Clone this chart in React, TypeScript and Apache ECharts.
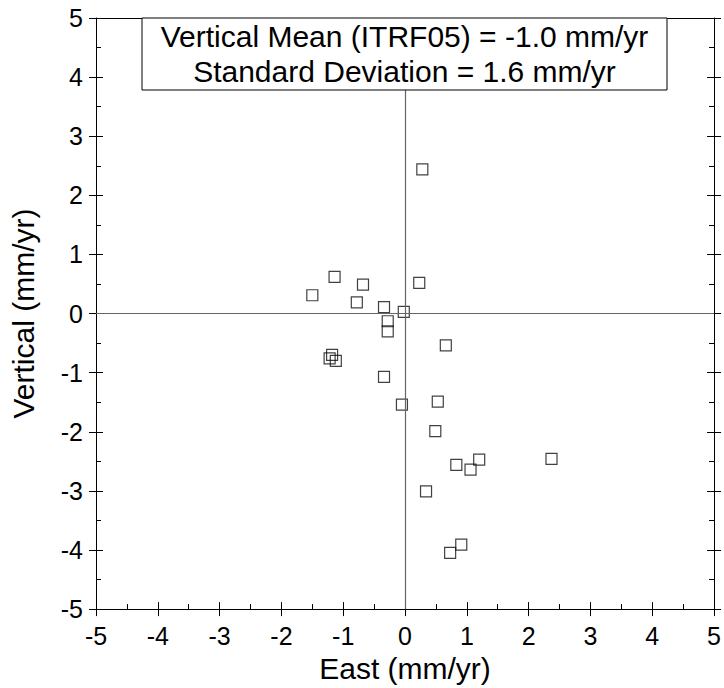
import React, { useEffect, useRef } from "react";
import * as echarts from "echarts";

const eastValues = [
  -1.14, -0.68, -1.5, 0.23, -0.78, -0.34, -0.02, -0.28, -0.28, 0.66,
  -1.18, -1.22, -1.12, -0.34, 0.53, -0.05, 0.49, 1.2, 2.37, 0.83,
  1.06, 0.34, 0.91, 0.73, 0.28,
];
const verticalValues = [
  0.62, 0.49, 0.31, 0.52, 0.19, 0.11, 0.03, -0.13, -0.3, -0.54,
  -0.7, -0.76, -0.8, -1.07, -1.49, -1.54, -1.99, -2.47, -2.46, -2.56,
  -2.64, -3.01, -3.91, -4.05, 2.44,
];
const axisTicks = [-5, -4, -3, -2, -1, 0, 1, 2, 3, 4, 5];
const boxLines = [
  "Vertical Mean (ITRF05) = -1.0 mm/yr",
  "Standard Deviation = 1.6 mm/yr",
];

const FONT = "Liberation Sans, Arial, sans-serif";

export default function App() {
  const ref = useRef<HTMLDivElement>(null);
  useEffect(() => {
    if (!ref.current) return;
    const chart = echarts.init(ref.current, null, { renderer: "svg" });
    const lo = axisTicks[0];
    const hi = axisTicks[axisTicks.length - 1];
    const line = { show: true, onZero: false, lineStyle: { color: "#000", width: 1 } };
    const noLine = { show: false, onZero: false };
    const noLabel = { show: false };
    const baseAxis = { type: "value", min: lo, max: hi, interval: 1, splitLine: { show: false } };
    const tickStyle = { color: "#000", width: 1 };
    chart.setOption({
      animation: false,
      backgroundColor: "#fff",
      textStyle: { fontFamily: FONT },
      grid: { left: 96, right: 9, top: 18, bottom: 77, containLabel: false },
      xAxis: [
        {
          ...baseAxis,
          position: "bottom",
          axisLine: line,
          axisTick: { show: true, inside: false, length: 7, lineStyle: tickStyle },
          axisLabel: { show: true, fontSize: 25, color: "#000", margin: 14, fontFamily: FONT },
          name: "East (mm/yr)",
          nameLocation: "middle",
          nameGap: 38,
          nameTextStyle: { fontSize: 30, color: "#000", fontFamily: FONT },
        },
        {
          ...baseAxis,
          position: "bottom",
          axisLine: noLine,
          axisTick: { show: true, inside: true, length: 7, lineStyle: tickStyle },
          minorTick: { show: true, splitNumber: 2, length: 5, lineStyle: tickStyle },
          axisLabel: noLabel,
        },
        {
          ...baseAxis,
          position: "top",
          axisLine: line,
          axisTick: { show: false },
          axisLabel: noLabel,
        },
      ],
      yAxis: [
        {
          ...baseAxis,
          position: "left",
          axisLine: line,
          axisTick: { show: true, inside: false, length: 7, lineStyle: tickStyle },
          axisLabel: { show: true, fontSize: 25, color: "#000", margin: 13, fontFamily: FONT },
          name: "Vertical (mm/yr)",
          nameLocation: "middle",
          nameGap: 58,
          nameTextStyle: { fontSize: 30, color: "#000", fontFamily: FONT },
        },
        {
          ...baseAxis,
          position: "left",
          axisLine: noLine,
          axisTick: { show: true, inside: true, length: 7, lineStyle: tickStyle },
          minorTick: { show: true, splitNumber: 2, length: 5, lineStyle: tickStyle },
          axisLabel: noLabel,
        },
        {
          ...baseAxis,
          position: "right",
          axisLine: line,
          axisTick: { show: true, inside: false, length: 7, lineStyle: tickStyle },
          axisLabel: noLabel,
        },
        {
          ...baseAxis,
          position: "right",
          axisLine: noLine,
          axisTick: { show: true, inside: true, length: 7, lineStyle: tickStyle },
          minorTick: { show: true, splitNumber: 2, length: 5, lineStyle: tickStyle },
          axisLabel: noLabel,
        },
      ],
      series: [
        {
          type: "scatter",
          xAxisIndex: 0,
          yAxisIndex: 0,
          symbol: "rect",
          symbolSize: 11,
          itemStyle: { color: "rgba(0,0,0,0)", borderColor: "#111", borderWidth: 1.2 },
          data: eastValues.map((e, i) => [e, verticalValues[i]]),
          markLine: {
            silent: true,
            symbol: ["none", "none"],
            label: { show: false },
            lineStyle: { color: "#666", width: 1.2, type: "solid" },
            data: [{ xAxis: 0 }, { yAxis: 0 }],
          },
          z: 3,
        },
      ],
      graphic: [
        {
          type: "rect",
          z: 100,
          shape: { x: 142, y: 18, width: 525, height: 72 },
          style: { fill: "#fff", stroke: "#000", lineWidth: 1 },
        },
        {
          type: "text",
          z: 101,
          x: 404.5,
          y: 36,
          style: {
            text: boxLines[0],
            fontSize: 30,
            fontFamily: FONT,
            fill: "#000",
            align: "center",
            verticalAlign: "middle",
          },
        },
        {
          type: "text",
          z: 101,
          x: 404.5,
          y: 71,
          style: {
            text: boxLines[1],
            fontSize: 30,
            fontFamily: FONT,
            fill: "#000",
            align: "center",
            verticalAlign: "middle",
          },
        },
      ],
    });
    return () => chart.dispose();
  }, []);
  return (
    <div
      ref={ref}
      style={{ position: "fixed", left: 0, top: 0, width: 724, height: 688, background: "#fff" }}
    />
  );
}
